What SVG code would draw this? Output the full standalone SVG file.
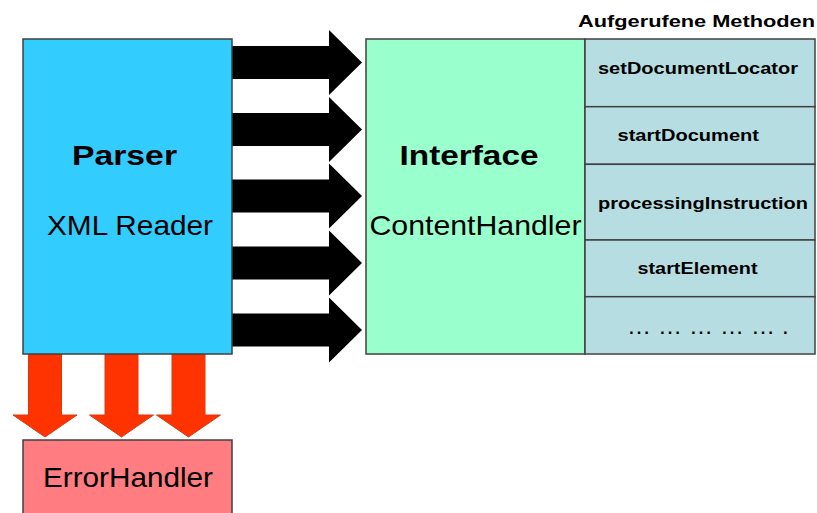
<svg xmlns="http://www.w3.org/2000/svg" width="817" height="513" viewBox="0 0 817 513">
<style>
  text { font-family: "Liberation Sans", Arial, sans-serif; fill: #000; }
  .box { stroke: #404040; stroke-width: 1.5; }
  .big { font-size: 28px; }
  .bold { font-weight: bold; }
  .m { font-size: 17px; font-weight: bold; }
</style>
<defs>
  <path id="blk" d="M0,-16.5 H97 V-32.5 L130,0 L97,32.5 V16.5 H0 Z" fill="#000"/>
  <path id="red" d="M-16.5,0 V61 H-32 L0,83 L32,61 H16.5 V0 Z" fill="#FF3300" stroke="#D83A10" stroke-width="1"/>
</defs>
<rect width="817" height="513" fill="#fff"/>

<g id="connectors">
  <use href="#blk" x="232" y="62.5"/>
  <use href="#blk" x="232" y="129.5"/>
  <use href="#blk" x="232" y="196"/>
  <use href="#blk" x="232" y="263"/>
  <use href="#blk" x="232" y="330"/>
  <use href="#red" x="45" y="354"/>
  <use href="#red" x="121.5" y="354"/>
  <use href="#red" x="188.5" y="354"/>
</g>

<g id="parser">
  <rect class="box" x="23" y="39" width="209" height="315" fill="#33CCFF"/>
  <text class="big bold" x="72" y="165" textLength="105" lengthAdjust="spacingAndGlyphs">Parser</text>
  <text class="big" x="47" y="235" textLength="166" lengthAdjust="spacingAndGlyphs">XML Reader</text>
</g>

<g id="interface">
  <rect class="box" x="366" y="39" width="219" height="315" fill="#99FFCC"/>
  <text class="big bold" x="399.5" y="165" textLength="139" lengthAdjust="spacingAndGlyphs">Interface</text>
  <text class="big" x="369.5" y="235" textLength="212" lengthAdjust="spacingAndGlyphs">ContentHandler</text>
</g>

<g id="methods">
  <text x="578" y="27" font-size="16" font-weight="bold" textLength="237" lengthAdjust="spacingAndGlyphs">Aufgerufene Methoden</text>
  <rect class="box" x="585" y="39" width="230" height="67.7" fill="#B6DEE2"/>
  <rect class="box" x="585" y="106.7" width="230" height="57.6" fill="#B6DEE2"/>
  <rect class="box" x="585" y="164.3" width="230" height="75.7" fill="#B6DEE2"/>
  <rect class="box" x="585" y="240" width="230" height="56.7" fill="#B6DEE2"/>
  <rect class="box" x="585" y="296.7" width="230" height="57.3" fill="#B6DEE2"/>
  <text class="m" x="598" y="74" textLength="200" lengthAdjust="spacingAndGlyphs">setDocumentLocator</text>
  <text class="m" x="617.5" y="141" textLength="141.5" lengthAdjust="spacingAndGlyphs">startDocument</text>
  <text class="m" x="598" y="209" textLength="210" lengthAdjust="spacingAndGlyphs">processingInstruction</text>
  <text class="m" x="637.5" y="274" textLength="120" lengthAdjust="spacingAndGlyphs">startElement</text>
  <text x="627" y="334" font-size="24" letter-spacing="7">…………….</text>
</g>

<g id="errorhandler">
  <rect class="box" x="23" y="440" width="209" height="76" fill="#FF7C80"/>
  <text class="big" x="43" y="487" font-size="30" textLength="170" lengthAdjust="spacingAndGlyphs">ErrorHandler</text>
</g>
</svg>
